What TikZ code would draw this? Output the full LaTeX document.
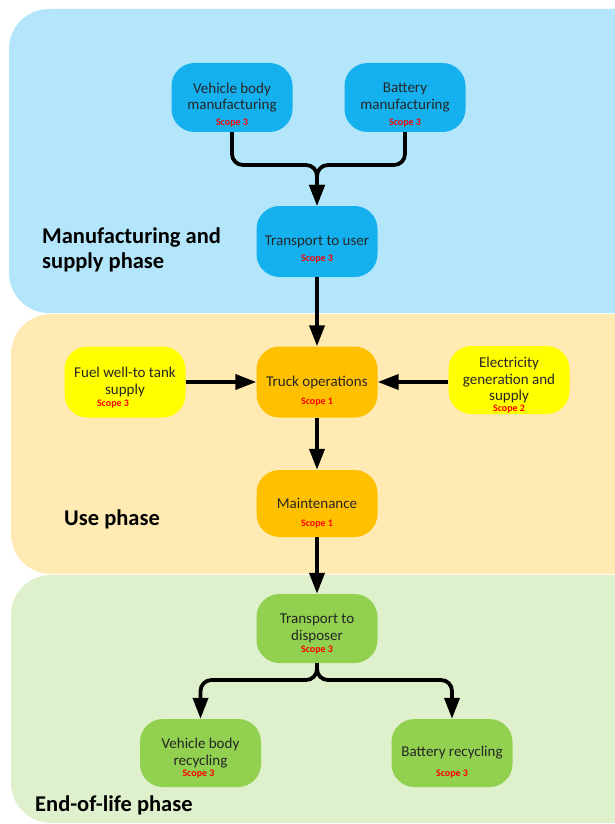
\documentclass[tikz,border=0pt]{standalone}
\usepackage{fontspec}
\setmainfont{Carlito}
\usetikzlibrary{arrows.meta,calc}
\definecolor{panelblue}{HTML}{B3E6FA}
\definecolor{nodeblue}{HTML}{14B1EE}
\definecolor{panelyellow}{HTML}{FEEAB2}
\definecolor{nodeorange}{HTML}{FFC000}
\definecolor{nodeyellow}{HTML}{FFFF00}
\definecolor{panelgreen}{HTML}{DFF0CC}
\definecolor{nodegreen}{HTML}{92D050}
\definecolor{scopered}{HTML}{FF0000}
\tikzset{
  stepbox/.style={rounded corners=23pt, minimum width=121pt, minimum height=70pt,
    align=center, inner sep=2pt, font=\fontsize{15}{16.5}\selectfont, text=black!85},
  scopetag/.style={anchor=base, inner sep=0pt, text=scopered,
    font=\fontsize{10}{11}\selectfont\bfseries},
  flow/.style={line width=3.8pt, -{Triangle[length=21pt,width=15pt]}, rounded corners=11pt},
  phase/.style={font=\fontsize{22.5}{25}\selectfont\bfseries, anchor=base west, inner sep=0pt}
}
\begin{document}
\begin{tikzpicture}[x=1pt,y=-1pt]
\useasboundingbox (0,0) rectangle (615,824);
\clip (0,0) rectangle (615,824);
% panels
\fill[panelblue, rounded corners=40pt] (9,9) rectangle (660,313);
\fill[panelyellow, rounded corners=40pt] (11,314) rectangle (660,574);
\fill[panelgreen, rounded corners=40pt] (11,575) rectangle (660,823);
% nodes
\node[stepbox, fill=nodeblue, minimum height=69pt] (vb) at (232,97.5) {Vehicle body\\manufacturing};
\node[stepbox, fill=nodeblue, minimum height=69pt] (bm) at (405,97.5) {Battery\\manufacturing};
\node[stepbox, fill=nodeblue, minimum height=71pt] (tu) at (317,241.5) {Transport to user};
\node[stepbox, fill=nodeorange, minimum height=71pt] (to) at (317,382) {Truck operations};
\node[stepbox, fill=nodeyellow, minimum height=71pt] (fu) at (125,382) {Fuel well-to tank\\supply};
\node[stepbox, fill=nodeyellow, minimum height=68pt] (el) at (509,380) {Electricity\\generation and\\supply};
\node[stepbox, fill=nodeorange, minimum height=67pt] (ma) at (317,503.5) {Maintenance};
\node[stepbox, fill=nodegreen, minimum height=69pt] (td) at (317,628.5) {Transport to\\disposer};
\node[stepbox, fill=nodegreen, minimum height=68pt] (vr) at (200.5,753) {Vehicle body\\recycling};
\node[stepbox, fill=nodegreen, minimum height=68pt] (br) at (452,753) {Battery recycling};
% scope tags
\node[scopetag] (vbs) at ($(vb.south)+(0,-7)$) {Scope 3};
\node[scopetag] (bms) at ($(bm.south)+(0,-7)$) {Scope 3};
\node[scopetag] (tus) at ($(tu.south)+(0,-16)$) {Scope 3};
\node[scopetag] (tos) at ($(to.south)+(0,-13)$) {Scope 1};
\node[scopetag] (fus) at ($(fu.south)+(-12,-11.5)$) {Scope 3};
\node[scopetag] (els) at ($(el.south)+(0,-3)$) {Scope 2};
\node[scopetag] (mas) at ($(ma.south)+(0,-11)$) {Scope 1};
\node[scopetag] (tds) at ($(td.south)+(0,-11)$) {Scope 3};
\node[scopetag] (vrs) at ($(vr.south)+(-2,-11)$) {Scope 3};
\node[scopetag] (brs) at ($(br.south)+(0,-11)$) {Scope 3};
% phase labels
\node[phase] (p1a) at (42,243) {Manufacturing and};
\node[phase] (p1b) at (42,268) {supply phase};
\node[phase] (p2) at (64,525) {Use phase};
\node[phase] (p3) at (35,811) {End-of-life phase};
% connectors
\coordinate (j1) at (317,165);
\coordinate (j2) at (317,680);
\draw[flow] (vb.south) |- (j1) -- (tu.north);
\draw[flow] (bm.south) |- (j1) -- (tu.north);
\draw[flow] (tu.south) -- (to.north);
\draw[flow] (fu.east) -- (to.west);
\draw[flow] (el.west |- to.east) -- (to.east);
\draw[flow] (to.south) -- (ma.north);
\draw[flow] (ma.south) -- (td.north);
\draw[flow] (td.south) -- (j2) -| (vr.north);
\draw[flow] (td.south) -- (j2) -| (br.north);
\end{tikzpicture}
\end{document}
